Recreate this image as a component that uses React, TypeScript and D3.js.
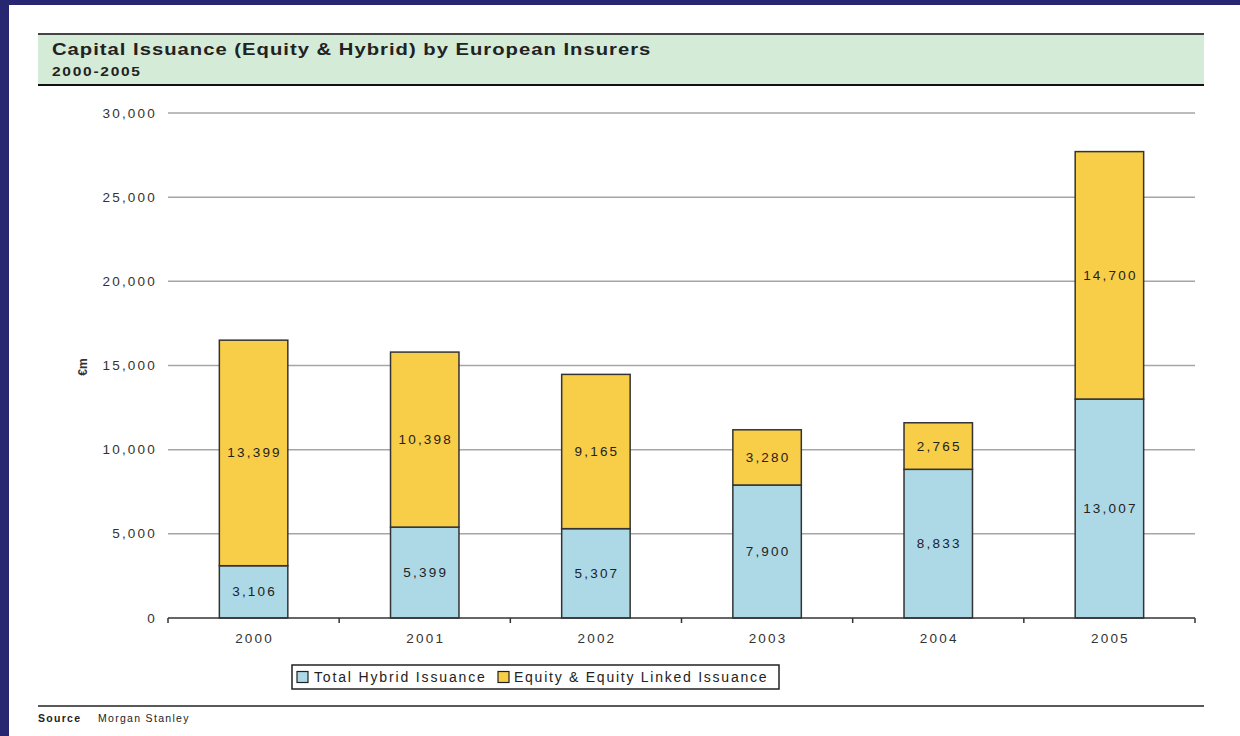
import * as d3 from 'd3';

const years = ['2000', '2001', '2002', '2003', '2004', '2005'];
const hybrid = [3106, 5399, 5307, 7900, 8833, 13007];
const equity = [13399, 10398, 9165, 3280, 2765, 14700];
const yTicks = [0, 5000, 10000, 15000, 20000, 25000, 30000];
const seriesNames = ['Total Hybrid Issuance', 'Equity & Equity Linked Issuance'];

const W = 1240;
const H = 736;
const PLOT = { left: 168, right: 1195, top: 113, bottom: 618 };
const NAVY = '#272671';
const BLUE = '#add8e6';
const GOLD = '#f8cd47';
const FONT = '"Liberation Sans", Arial, sans-serif';

const fmt = d3.format(',');

export default function App() {
  const x = d3.scaleBand<string>()
    .domain(years)
    .range([PLOT.left, PLOT.right])
    .padding(0);
  const y = d3.scaleLinear()
    .domain([0, 30000])
    .range([PLOT.bottom, PLOT.top]);

  const barW = x.bandwidth() * 0.4;
  const stacked = d3.stack<number>()
    .keys(['hybrid', 'equity'])
    .value((i, key) => (key === 'hybrid' ? hybrid[i] : equity[i]))(years.map((_, i) => i));
  const fills = [BLUE, GOLD];

  const boundaries = years.map((yr) => x(yr) as number).concat(PLOT.right);

  return (
    <div style={{ position: 'absolute', left: 0, top: 0 }}>
      <svg width={W} height={H} style={{ display: 'block', background: '#fff' }} fontFamily={FONT}>
        {/* frame */}
        <rect x={0} y={0} width={W} height={5} fill={NAVY} />
        <rect x={0} y={0} width={9} height={H} fill={NAVY} />

        {/* title box */}
        <rect x={38} y={34} width={1166} height={51} fill="#d4ebd8" />
        <line x1={38} x2={1204} y1={34} y2={34} stroke="#444" strokeWidth={2} />
        <line x1={38} x2={1204} y1={85} y2={85} stroke="#111" strokeWidth={2} />
        <text transform="translate(52,55) scale(1.19,1)" fontSize={17} fontWeight="bold" fill="#222" letterSpacing={0.85}>
          Capital Issuance (Equity &amp; Hybrid) by European Insurers
        </text>
        <text transform="translate(52,76) scale(1.15,1)" fontSize={13.5} fontWeight="bold" fill="#222" letterSpacing={1.5}>
          2000-2005
        </text>

        {/* gridlines + y labels */}
        {yTicks.map((t) => (
          <g key={t}>
            {t > 0 && (
              <line x1={PLOT.left} x2={PLOT.right} y1={y(t)} y2={y(t)} stroke="#a6a6a6" strokeWidth={1.5} />
            )}
            <text x={157} y={y(t) + 4.5} textAnchor="end" fontSize={13.5} fill="#333" letterSpacing={2.2}>
              {fmt(t)}
            </text>
          </g>
        ))}
        <text
          transform={`translate(87,367) rotate(-90)`}
          textAnchor="middle"
          fontSize={12}
          fontWeight="bold"
          fill="#333"
        >
          €m
        </text>

        {/* bars */}
        {stacked.map((layer, li) =>
          layer.map((d, i) => {
            const x0 = (x(years[i]) as number) + (x.bandwidth() - barW) / 2;
            const yTop = y(d[1]);
            const yBot = y(d[0]);
            const v = li === 0 ? hybrid[i] : equity[i];
            return (
              <g key={`${li}-${i}`}>
                <rect x={x0} y={yTop} width={barW} height={yBot - yTop} fill={fills[li]} stroke="#333" strokeWidth={1.5} />
                <text
                  x={x0 + barW / 2 + 1}
                  y={(yTop + yBot) / 2 + 4.5}
                  textAnchor="middle"
                  fontSize={13.5}
                  fill="#222"
                  letterSpacing={2.2}
                >
                  {fmt(v)}
                </text>
              </g>
            );
          })
        )}

        {/* x axis */}
        <line x1={PLOT.left} x2={PLOT.right} y1={PLOT.bottom} y2={PLOT.bottom} stroke="#333" strokeWidth={1.5} />
        {boundaries.map((bx, i) => (
          <line key={i} x1={bx} x2={bx} y1={PLOT.bottom} y2={PLOT.bottom + 5} stroke="#333" strokeWidth={1.5} />
        ))}
        {years.map((yr) => (
          <text
            key={yr}
            x={(x(yr) as number) + x.bandwidth() / 2 + 1}
            y={643}
            textAnchor="middle"
            fontSize={13.5}
            fill="#333"
            letterSpacing={2.2}
          >
            {yr}
          </text>
        ))}

        {/* legend */}
        <rect x={292} y={665} width={487} height={24} fill="#fff" stroke="#222" strokeWidth={1.5} />
        <rect x={297} y={671.5} width={11} height={11} fill={BLUE} stroke="#222" strokeWidth={1.2} />
        <text x={314} y={682} fontSize={14} fill="#222" letterSpacing={1.85}>{seriesNames[0]}</text>
        <rect x={498} y={671.5} width={11} height={11} fill={GOLD} stroke="#222" strokeWidth={1.2} />
        <text x={514} y={682} fontSize={14} fill="#222" letterSpacing={1.75}>{seriesNames[1]}</text>

        {/* source */}
        <line x1={38} x2={1204} y1={706} y2={706} stroke="#222" strokeWidth={1.5} />
        <text x={38} y={722} fontSize={10.5} fontWeight="bold" fill="#222" letterSpacing={1.3}>Source</text>
        <text x={98} y={722} fontSize={10.5} fill="#222" letterSpacing={1.3}>Morgan Stanley</text>
      </svg>
    </div>
  );
}
